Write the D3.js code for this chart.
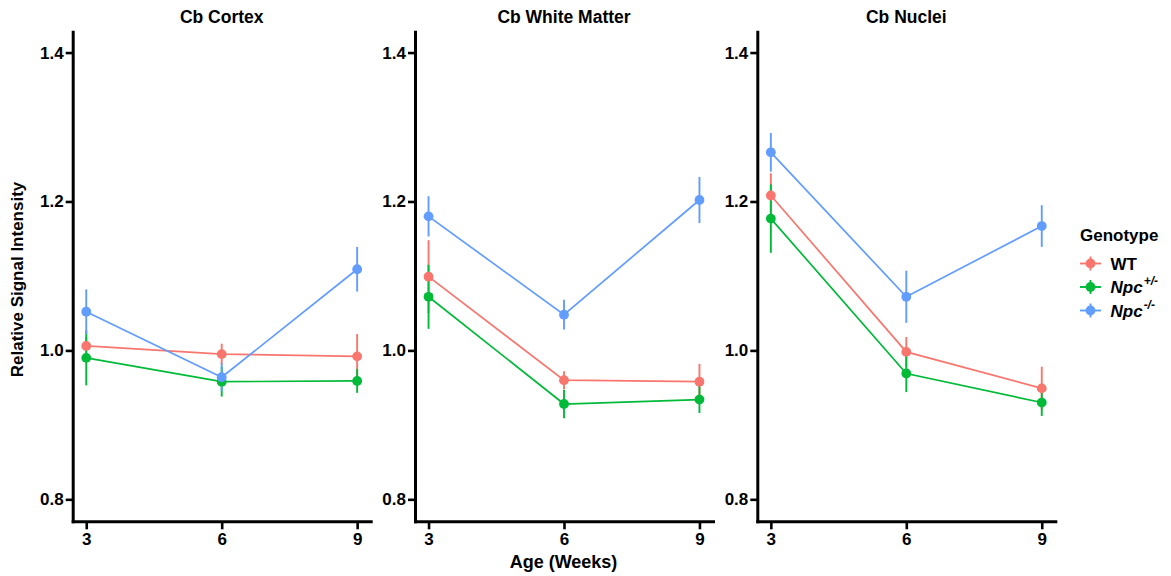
<!DOCTYPE html>
<html>
<head>
<meta charset="utf-8">
<script src="https://cdn.jsdelivr.net/npm/d3@7"></script>
<style>
  body { margin: 0; background: #fff; }
  svg text { font-family: "Liberation Sans", Arial, Helvetica, sans-serif; font-weight: bold; fill: #000; }
</style>
</head>
<body>
<div id="chart"></div>
<script>
// facets, x values and groups
var panels = ["Cb Cortex", "Cb White Matter", "Cb Nuclei"];
var ages = [3, 6, 9];
var genotypes = ["WT", "Npc+/-", "Npc-/-"];
var yTicks = [0.8, 1.0, 1.2, 1.4];

// mean per panel (rows) and age (cols)
var wtMean  = [[1.006, 0.995, 0.992], [1.099, 0.960, 0.958], [1.208, 0.998, 0.949]];
var hetMean = [[0.990, 0.958, 0.959], [1.072, 0.928, 0.934], [1.177, 0.969, 0.930]];
var homMean = [[1.052, 0.964, 1.109], [1.180, 1.048, 1.202], [1.266, 1.072, 1.167]];

// error (half bar length)
var wtErr  = [[0.012, 0.014, 0.030], [0.049, 0.012, 0.024], [0.030, 0.020, 0.029]];
var hetErr = [[0.037, 0.020, 0.016], [0.043, 0.019, 0.018], [0.046, 0.025, 0.018]];
var homErr = [[0.030, 0.019, 0.030], [0.027, 0.020, 0.031], [0.026, 0.035, 0.028]];

var colors = ["#F8766D", "#00BA38", "#619CFF"];
var means = [wtMean, hetMean, homMean];
var errs = [wtErr, hetErr, homErr];

var width = 1171, height = 576;
var panelLeft = [72.7, 415, 757.3],
    panelW = 298,
    plotTop = 31.7,
    plotBottom = 521.3;

var svg = d3.select("#chart").append("svg")
    .attr("width", width)
    .attr("height", height);

var y = d3.scaleLinear().domain([0.7705, 1.428]).range([plotBottom, plotTop]);

panels.forEach(function (name, p) {
    var x = d3.scaleLinear().domain([2.7, 9.3]).range([panelLeft[p], panelLeft[p] + panelW]);
    var g = svg.append("g").attr("class", "panel");

    // build rows for this panel
    var series = genotypes.map(function (gt, k) {
        return ages.map(function (a, i) {
            return { age: a, mean: means[k][p][i], err: errs[k][p][i], k: k };
        });
    });

    // error bars
    series.forEach(function (s, k) {
        g.selectAll(null).data(s).enter().append("line")
            .attr("x1", function (d) { return x(d.age); })
            .attr("x2", function (d) { return x(d.age); })
            .attr("y1", function (d) { return y(d.mean - d.err); })
            .attr("y2", function (d) { return y(d.mean + d.err); })
            .style("stroke", colors[k])
            .style("stroke-width", 1.9);
    });

    var line = d3.line()
        .x(function (d) { return x(d.age); })
        .y(function (d) { return y(d.mean); });

    series.forEach(function (s, k) {
        g.append("path")
            .datum(s)
            .attr("d", line)
            .style("fill", "none")
            .style("stroke", colors[k])
            .style("stroke-width", 1.7);
    });

    series.forEach(function (s, k) {
        g.selectAll(null).data(s).enter().append("circle")
            .attr("cx", function (d) { return x(d.age); })
            .attr("cy", function (d) { return y(d.mean); })
            .attr("r", 4.9)
            .style("fill", colors[k]);
    });

    // axes
    var yAxis = svg.append("g")
        .attr("transform", "translate(" + panelLeft[p] + ",0)")
        .call(d3.axisLeft(y).tickValues(yTicks).tickFormat(d3.format(".1f")).tickSize(7).tickSizeOuter(0).tickPadding(2));
    var xAxis = svg.append("g")
        .attr("transform", "translate(0," + plotBottom + ")")
        .call(d3.axisBottom(x).tickValues(ages).tickFormat(d3.format("d")).tickSize(8).tickSizeOuter(0).tickPadding(4));

    [yAxis, xAxis].forEach(function (ax) {
        ax.select(".domain").style("stroke", "#000").style("stroke-width", 3).style("stroke-linecap", "square");
        ax.selectAll(".tick line").style("stroke", "#000").style("stroke-width", 2.6);
        ax.selectAll(".tick text").style("font-size", "17px").style("fill", "#000");
    });

    // facet title
    svg.append("text")
        .attr("x", panelLeft[p] + panelW / 2)
        .attr("y", 23)
        .attr("text-anchor", "middle")
        .style("font-size", "17.5px")
        .text(name);
});

// axis titles
svg.append("text")
    .attr("x", 563.5)
    .attr("y", 568)
    .attr("text-anchor", "middle")
    .style("font-size", "18px")
    .text("Age (Weeks)");

svg.append("text")
    .attr("transform", "translate(23," + ((plotTop + plotBottom) / 2 + 3) + ") rotate(-90)")
    .attr("text-anchor", "middle")
    .style("font-size", "17px")
    .text("Relative Signal Intensity");

// legend
var legend = svg.append("g").attr("class", "legend");
legend.append("text")
    .attr("x", 1080)
    .attr("y", 241)
    .style("font-size", "17px")
    .text("Genotype");

var rowY = [263.5, 287, 310.5];
var sup = ["", "+/-", "-/-"];
genotypes.forEach(function (gt, k) {
    var cy = rowY[k];
    legend.append("line")
        .attr("x1", 1080).attr("x2", 1101).attr("y1", cy).attr("y2", cy)
        .style("stroke", colors[k]).style("stroke-width", 1.9);
    legend.append("line")
        .attr("x1", 1090.5).attr("x2", 1090.5).attr("y1", cy - 7).attr("y2", cy + 7)
        .style("stroke", colors[k]).style("stroke-width", 1.9);
    legend.append("circle")
        .attr("cx", 1090.5).attr("cy", cy).attr("r", 4.9)
        .style("fill", colors[k]);

    var t = legend.append("text")
        .attr("x", 1110.5)
        .attr("y", cy + 6)
        .style("font-size", "17px");
    if (k === 0) {
        t.text(gt);
    } else {
        t.append("tspan").style("font-style", "italic").text("Npc");
        t.append("tspan").attr("dy", -8).attr("dx", 1).style("font-size", "12px").style("font-style", "italic").text(sup[k]);
    }
});
</script>
</body>
</html>
